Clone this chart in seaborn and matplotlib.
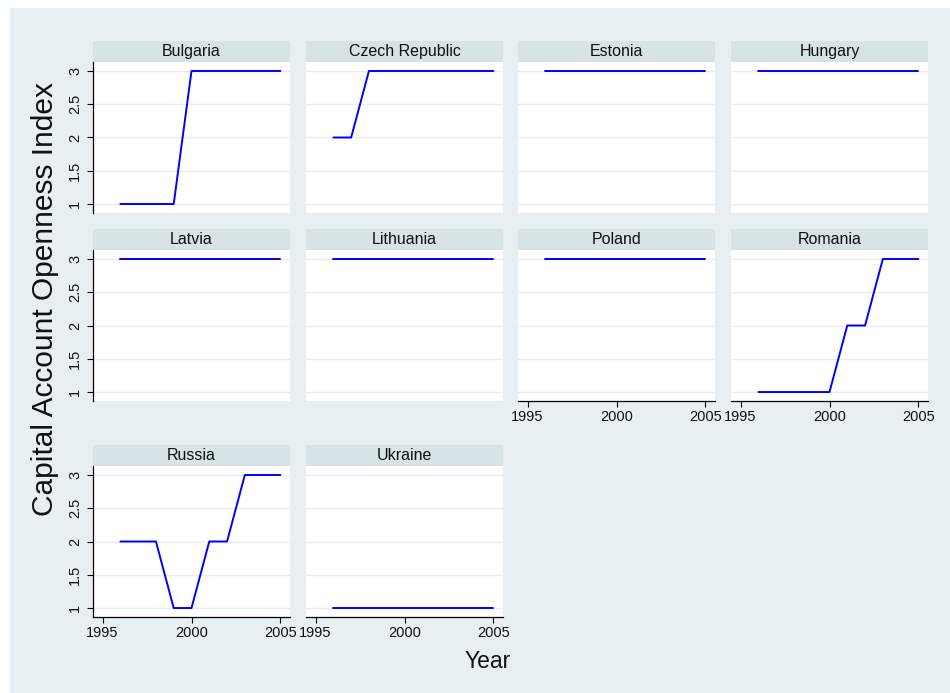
import matplotlib
matplotlib.use("Agg")
import matplotlib.pyplot as plt
from matplotlib.patches import Rectangle
import pandas as pd
import seaborn as sns

# Capital account openness index by country, 1996-2005
years = [1996, 1997, 1998, 1999, 2000, 2001, 2002, 2003, 2004, 2005]
countries = ["Bulgaria", "Czech Republic", "Estonia", "Hungary",
             "Latvia", "Lithuania", "Poland", "Romania",
             "Russia", "Ukraine"]
bulgaria = [1, 1, 1, 1, 3, 3, 3, 3, 3, 3]
czech_republic = [2, 2, 3, 3, 3, 3, 3, 3, 3, 3]
estonia = [3, 3, 3, 3, 3, 3, 3, 3, 3, 3]
hungary = [3, 3, 3, 3, 3, 3, 3, 3, 3, 3]
latvia = [3, 3, 3, 3, 3, 3, 3, 3, 3, 3]
lithuania = [3, 3, 3, 3, 3, 3, 3, 3, 3, 3]
poland = [3, 3, 3, 3, 3, 3, 3, 3, 3, 3]
romania = [1, 1, 1, 1, 1, 2, 2, 3, 3, 3]
russia = [2, 2, 2, 1, 1, 2, 2, 3, 3, 3]
ukraine = [1, 1, 1, 1, 1, 1, 1, 1, 1, 1]

y_ticks = [1, 1.5, 2, 2.5, 3]
y_tick_labels = ["1", "1.5", "2", "2.5", "3"]
x_ticks = [1995, 2000, 2005]

series = [bulgaria, czech_republic, estonia, hungary, latvia,
          lithuania, poland, romania, russia, ukraine]
rows = []
for name, vals in zip(countries, series):
    for yr, v in zip(years, vals):
        rows.append({"country": name, "year": yr, "kaopen": v})
df = pd.DataFrame(rows)

sns.set_style("white")
plt.rcParams["font.family"] = ["Liberation Sans", "DejaVu Sans"]

BG = "#e8eff2"
STRIP = "#d8e3e8"
GRID = "#e6eef1"
LINE = "#0000ff"
TXT = "#111111"

g = sns.relplot(
    data=df, x="year", y="kaopen", col="country", col_order=countries,
    col_wrap=4, kind="line", color=LINE, linewidth=1.4, errorbar=None,
    height=2, aspect=1.3,
    facet_kws=dict(sharex=False, sharey=False),
)
fig = g.figure
fig.set_size_inches(9.5, 6.93)
fig.set_dpi(100)
fig.patch.set_facecolor("white")

W, H = 950.0, 693.0
# light graph region
fig.patches.append(Rectangle((10 / W, 0), 940 / W, (H - 8) / H,
                             transform=fig.transFigure, facecolor=BG,
                             edgecolor="none", zorder=-10))

col_left = [93, 306, 518, 731]
panel_w = 197
row_top = [62, 250, 466]
panel_h = 151
strip_h = 21

g.set_titles("")
g.set_axis_labels("", "")

n = len(countries)
for i, ax in enumerate(g.axes.flat):
    r, c = divmod(i, 4)
    left = col_left[c]
    top = row_top[r]
    ax.set_position([left / W, 1 - (top + panel_h) / H, panel_w / W, panel_h / H])
    ax.set_facecolor("white")
    ax.set_xlim(1994.46, 2005.54)
    ax.set_ylim(0.865, 3.135)
    ax.set_yticks(y_ticks)
    ax.set_xticks(x_ticks)
    ax.grid(False)
    for yv in y_ticks:
        ax.axhline(yv, color=GRID, linewidth=1.0, zorder=0.5)
    for ln in ax.get_lines():
        if ln.get_color() == LINE:
            ln.set_zorder(3)
            ln.set_solid_joinstyle("round")

    show_y = c == 0
    show_x = (i + 4) >= n
    for side in ["top", "right"]:
        ax.spines[side].set_visible(False)
    ax.spines["left"].set_visible(show_y)
    ax.spines["bottom"].set_visible(show_x)
    for side in ["left", "bottom"]:
        ax.spines[side].set_color("black")
        ax.spines[side].set_linewidth(0.9)

    if show_y:
        ax.set_yticklabels(y_tick_labels, rotation=90, va="center")
        ax.tick_params(axis="y", left=True, labelleft=True, length=4.3,
                       width=0.8, pad=3.5, labelsize=10.5, color="black",
                       labelcolor=TXT)
    else:
        ax.tick_params(axis="y", left=False, labelleft=False)
    if show_x:
        ax.set_xticklabels([str(t) for t in x_ticks])
        ax.tick_params(axis="x", bottom=True, labelbottom=True, length=4.3,
                       width=0.8, pad=2.0, labelsize=10.5, color="black",
                       labelcolor=TXT)
    else:
        ax.tick_params(axis="x", bottom=False, labelbottom=False)

    # panel header strip
    fig.patches.append(Rectangle((left / W, 1 - top / H), panel_w / W, strip_h / H,
                                 transform=fig.transFigure, facecolor=STRIP,
                                 edgecolor="none", zorder=-5))
    fig.text((left + panel_w / 2) / W, 1 - (top - strip_h / 2) / H,
             countries[i], ha="center", va="center", fontsize=11.5,
             color=TXT)

fig.text(45 / W, 1 - 299 / H, "Capital Account Openness Index",
         rotation=90, ha="center", va="center", fontsize=21.5, color=TXT)
fig.text(488 / W, 1 - 662 / H, "Year", ha="center", va="center",
         fontsize=16.5, color=TXT)

fig.savefig("out.png", dpi=100, facecolor=fig.get_facecolor())
